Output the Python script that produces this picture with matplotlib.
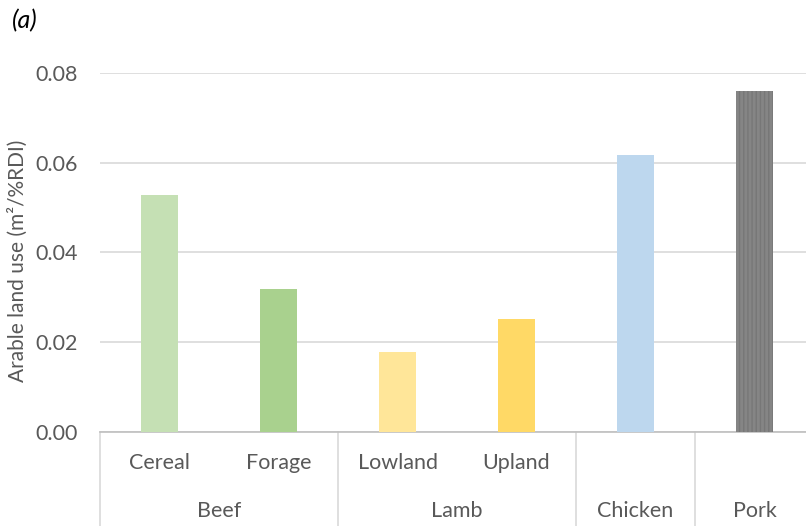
import matplotlib.pyplot as plt
import matplotlib.transforms as mtransforms
import numpy as np

plt.rcParams['font.family'] = ['Lato', 'DejaVu Sans']

# arable land use per %RDI, by livestock system
subcats = ['Cereal', 'Forage', 'Lowland', 'Upland', '', '']
groups = ['Beef', 'Lamb', 'Chicken', 'Pork']
group_spans = [(0, 1), (2, 3), (4, 4), (5, 5)]
values = [0.0528, 0.0318, 0.0178, 0.0251, 0.0616, 0.0759]
colors = ['#C5E0B4', '#A9D18E', '#FFE699', '#FFD966', '#BDD7EE', '#858585']

txt = '#595959'
grid = '#D9D9D9'
fs = 15.5

fig = plt.figure(figsize=(8.06, 5.26), dpi=100)
W, H = 806, 526
ax = fig.add_axes([100 / W, (H - 431.5) / H, 714 / W, (431.5 - 73) / H])

x = np.arange(len(values))
bars = ax.bar(x, values, width=0.31, color=colors, zorder=3)
# pork bar has a fine vertical stripe pattern
bars[-1].set_hatch('||||')
bars[-1].set_edgecolor('#777777')
bars[-1].set_linewidth(0)

ax.set_xlim(-0.5, len(values) - 0.5)
ax.set_ylim(0, 0.08)
ax.set_yticks(np.arange(0, 0.081, 0.02))
ax.set_yticklabels([f'{v:.2f}' for v in np.arange(0, 0.081, 0.02)])
ax.tick_params(axis='y', length=0, pad=16, labelsize=fs, labelcolor=txt)
ax.set_xticks([])
ax.yaxis.grid(True, color=grid, linewidth=1.2, zorder=0)
for s in ['left', 'right', 'top']:
    ax.spines[s].set_visible(False)
ax.spines['bottom'].set_color('#BFBFBF')
ax.spines['bottom'].set_linewidth(1.2)

tr = mtransforms.blended_transform_factory(ax.transData, ax.transAxes)

# multi-level category axis
for xi, lab in zip(x, subcats):
    if lab:
        ax.annotate(lab, (xi, 0), xycoords=tr, xytext=(0, -23), textcoords='offset points',
                    ha='center', va='center', fontsize=fs, color=txt)
for g, (a, b) in zip(groups, group_spans):
    ax.annotate(g, ((a + b) / 2, 0), xycoords=tr, xytext=(0, -57.5), textcoords='offset points',
                ha='center', va='center', fontsize=fs, color=txt)
for d in [-0.5, 1.5, 3.5, 4.5, 5.5]:
    ax.plot([d, d], [0, -0.4], transform=tr, color=grid, linewidth=1.2, clip_on=False)

fig.text(18 / W, 0.505, 'Arable land use (m²/%RDI)', rotation=90, ha='center', va='center',
         fontsize=15, color=txt)
fig.text(12 / W, 1 - 21 / H, '(a)', ha='left', va='center', fontsize=18, style='italic',
         color='black')

fig.savefig('out.png', dpi=100)
